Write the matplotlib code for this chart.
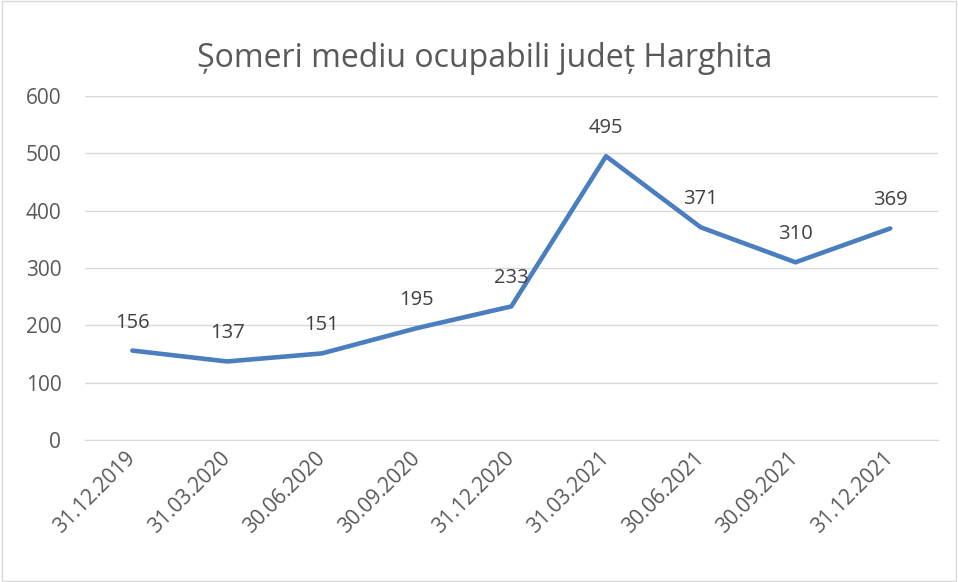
import matplotlib
matplotlib.use("Agg")
import matplotlib.pyplot as plt

categories = ["31.12.2019", "31.03.2020", "30.06.2020", "30.09.2020", "31.12.2020",
              "31.03.2021", "30.06.2021", "30.09.2021", "31.12.2021"]
values = [156, 137, 151, 195, 233, 495, 371, 310, 369]
yticks = [0, 100, 200, 300, 400, 500, 600]

plt.rcParams['font.family'] = ['Open Sans', 'DejaVu Sans']

fig = plt.figure(figsize=(9.58, 5.82), dpi=100)
fig.patch.set_facecolor("white")
# figure border
fig.add_artist(plt.Rectangle((0.002, 0.002), 0.996, 0.996, transform=fig.transFigure,
                             fill=False, edgecolor="#D9D9D9", linewidth=1))

ax = fig.add_axes([0.0887, 0.244, 0.890, 0.591])
x = list(range(len(categories)))
ax.plot(x, values, color="#4A7EBF", linewidth=3.3, solid_capstyle="round", solid_joinstyle="round")
for xi, v in zip(x, values):
    ax.annotate(str(v), (xi, v), xytext=(0, 13), textcoords="offset points",
                ha="center", va="bottom", fontsize=14.5, color="#404040")

ax.set_xlim(-0.5, len(categories) - 0.5)
ax.set_ylim(0, 600)
ax.set_yticks(yticks)
ax.set_xticks(x)
ax.set_xticklabels(categories, rotation=45, ha="right", va="center", rotation_mode="anchor")
ax.tick_params(axis="both", length=0, labelsize=15, colors="#595959")
ax.tick_params(axis="x", pad=11)
ax.tick_params(axis="y", pad=17)
ax.grid(axis="y", color="#D9D9D9", linewidth=1)
ax.set_axisbelow(True)
for s in ["top", "right", "left"]:
    ax.spines[s].set_visible(False)
ax.spines["bottom"].set_color("#D9D9D9")

fig.text(0.506, 0.90, "Șomeri mediu ocupabili județ Harghita", ha="center", va="center",
         fontsize=23, color="#595959")

fig.savefig("out.png", dpi=100)
